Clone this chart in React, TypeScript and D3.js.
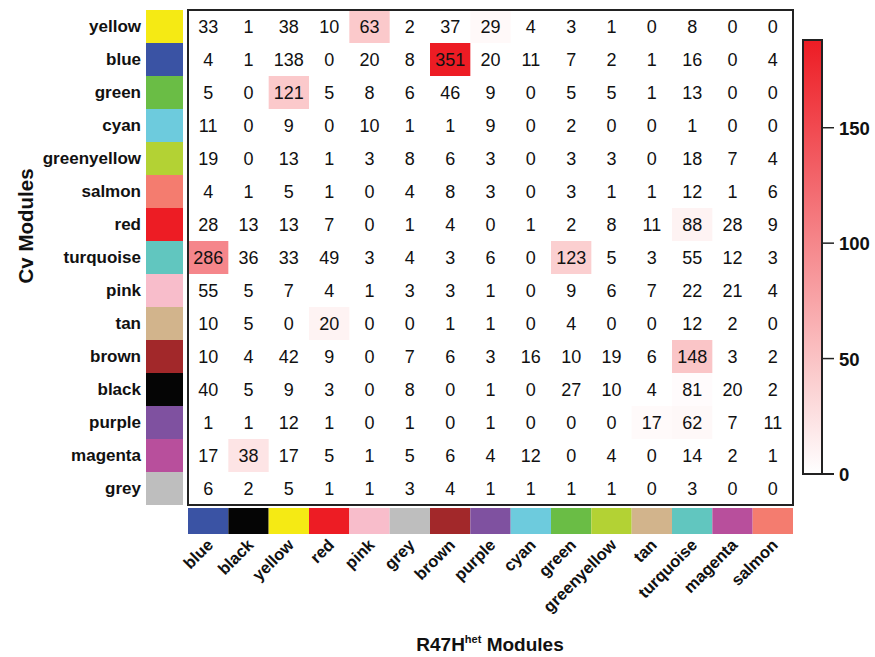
import React from "react";
import * as d3 from "d3";

const rowModules = ["yellow","blue","green","cyan","greenyellow","salmon","red","turquoise","pink","tan","brown","black","purple","magenta","grey"];
const colModules = ["blue","black","yellow","red","pink","grey","brown","purple","cyan","green","greenyellow","tan","turquoise","magenta","salmon"];

const moduleColors: Record<string, string> = {
  yellow: "#f5ea14", blue: "#3a53a4", green: "#6abd45", cyan: "#6dcbdd", greenyellow: "#b3d234",
  salmon: "#f47c6f", red: "#ed1c24", turquoise: "#61c6bf", pink: "#f8bdcb", tan: "#d2b48c",
  brown: "#a2282a", black: "#050505", purple: "#7f51a0", magenta: "#b84f9c", grey: "#bebebe",
};

const counts: number[][] = [
  [33,1,38,10,63,2,37,29,4,3,1,0,8,0,0],
  [4,1,138,0,20,8,351,20,11,7,2,1,16,0,4],
  [5,0,121,5,8,6,46,9,0,5,5,1,13,0,0],
  [11,0,9,0,10,1,1,9,0,2,0,0,1,0,0],
  [19,0,13,1,3,8,6,3,0,3,3,0,18,7,4],
  [4,1,5,1,0,4,8,3,0,3,1,1,12,1,6],
  [28,13,13,7,0,1,4,0,1,2,8,11,88,28,9],
  [286,36,33,49,3,4,3,6,0,123,5,3,55,12,3],
  [55,5,7,4,1,3,3,1,0,9,6,7,22,21,4],
  [10,5,0,20,0,0,1,1,0,4,0,0,12,2,0],
  [10,4,42,9,0,7,6,3,16,10,19,6,148,3,2],
  [40,5,9,3,0,8,0,1,0,27,10,4,81,20,2],
  [1,1,12,1,0,1,0,1,0,0,0,17,62,7,11],
  [17,38,17,5,1,5,6,4,12,0,4,0,14,2,1],
  [6,2,5,1,1,3,4,1,1,1,1,0,3,0,0],
];

// significance score driving cell color (estimated from shading)
const scores: number[][] = [
  [0,0,0,0,45,0,0,5,0,0,0,0,0,0,0],
  [0,0,0,0,0,0,188,0,0,0,0,0,0,0,0],
  [0,0,45,0,0,0,0,0,0,0,0,0,0,0,0],
  [0,0,0,0,0,0,0,0,0,0,0,0,0,0,0],
  [0,0,0,0,0,0,0,0,0,0,0,0,0,0,0],
  [0,0,0,0,0,0,0,0,0,0,0,0,0,0,0],
  [0,0,0,0,0,0,0,0,0,0,0,0,10,0,0],
  [100,0,0,0,0,0,0,0,0,40,0,0,0,0,0],
  [0,0,0,0,0,0,0,0,0,0,0,0,0,0,0],
  [0,0,0,10,0,0,0,0,0,0,0,0,0,0,0],
  [0,0,0,0,0,0,0,0,0,0,0,0,48,0,0],
  [0,0,0,0,0,0,0,0,0,0,0,0,3,0,0],
  [0,0,0,0,0,0,0,0,0,0,0,4,6,0,0],
  [0,22,0,0,0,0,0,0,0,0,0,0,0,0,0],
  [0,0,0,0,0,0,0,0,0,0,0,0,0,0,0],
];

const legendTicks = [0, 50, 100, 150];
const scoreMax = 188;

export default function App() {
  const W = 875, H = 657;
  const mx0 = 188, mx1 = 793, my0 = 10, my1 = 505;
  const x = d3.scaleBand<string>().domain(colModules.map((_, i) => String(i))).range([mx0, mx1]);
  const y = d3.scaleBand<string>().domain(rowModules.map((_, i) => String(i))).range([my0, my1]);
  const color = d3.scaleLinear<string>().domain([0, scoreMax]).range(["#ffffff", "#ed1c24"]).interpolate(d3.interpolateRgb).clamp(true);
  const ly = d3.scaleLinear().domain([0, scoreMax]).range([474, 40]);
  const font = "'Liberation Sans', Arial, Helvetica, sans-serif";
  const gradStops = d3.range(0, 1.0001, 0.1);

  return (
    <svg width={W} height={H} style={{ position: "absolute", left: 0, top: 0, background: "#fff" }} fontFamily={font}>
      <defs>
        <linearGradient id="lg" x1="0" y1="1" x2="0" y2="0">
          {gradStops.map((t) => (
            <stop key={t} offset={t} stopColor={color(t * scoreMax)} />
          ))}
        </linearGradient>
      </defs>
      <rect width={W} height={H} fill="#fff" />
      {/* row color bar and labels */}
      {rowModules.map((m, i) => (
        <g key={"r" + i}>
          <rect x={146} y={y(String(i))!} width={37} height={y.bandwidth()} fill={moduleColors[m]} />
          <text x={141} y={y(String(i))! + y.bandwidth() / 2 + 5} textAnchor="end" fontWeight="bold" fontSize={17} fill="#111">{m}</text>
        </g>
      ))}
      {/* cells */}
      {counts.map((row, i) =>
        row.map((v, j) => (
          <g key={i + "-" + j}>
            {scores[i][j] > 0 && (
              <rect x={x(String(j))!} y={y(String(i))!} width={x.bandwidth()} height={y.bandwidth()} fill={color(scores[i][j])} />
            )}
            <text x={x(String(j))! + x.bandwidth() / 2} y={y(String(i))! + y.bandwidth() / 2 + 6.5} textAnchor="middle" fontSize={18} fill="#111">{v}</text>
          </g>
        ))
      )}
      <rect x={mx0} y={my0} width={mx1 - mx0} height={my1 - my0} fill="none" stroke="#222" strokeWidth={2} />
      {/* column color bar and labels */}
      {colModules.map((m, j) => {
        const cx = x(String(j))! + x.bandwidth() / 2;
        return (
          <g key={"c" + j}>
            <rect x={x(String(j))!} y={508} width={x.bandwidth()} height={26} fill={moduleColors[m]} />
            <text transform={`translate(${cx + 6},${546}) rotate(-45)`} textAnchor="end" fontWeight="bold" fontSize={16.5} fill="#111">{m}</text>
          </g>
        );
      })}
      {/* axis titles */}
      <text x={490} y={651} textAnchor="middle" fontWeight="bold" fontSize={19} fill="#111">
        R47H<tspan fontSize={11} dy={-8}>het</tspan><tspan dy={8}> Modules</tspan>
      </text>
      <text transform={`translate(33,${226}) rotate(-90)`} textAnchor="middle" fontWeight="bold" fontSize={20.5} fill="#111">Cv Modules</text>
      {/* legend */}
      <rect x={803} y={ly(scoreMax)} width={19} height={ly(0) - ly(scoreMax)} fill="url(#lg)" stroke="#222" strokeWidth={2} />
      <line x1={803} x2={834} y1={ly(0)} y2={ly(0)} stroke="#222" strokeWidth={2} />
      {legendTicks.map((t) => (
        <g key={"t" + t}>
          <line x1={822} x2={834} y1={ly(t)} y2={ly(t)} stroke="#222" strokeWidth={1.5} />
          <text x={839} y={ly(t) + 7} fontWeight="bold" fontSize={18.5} fill="#111">{t}</text>
        </g>
      ))}
    </svg>
  );
}
